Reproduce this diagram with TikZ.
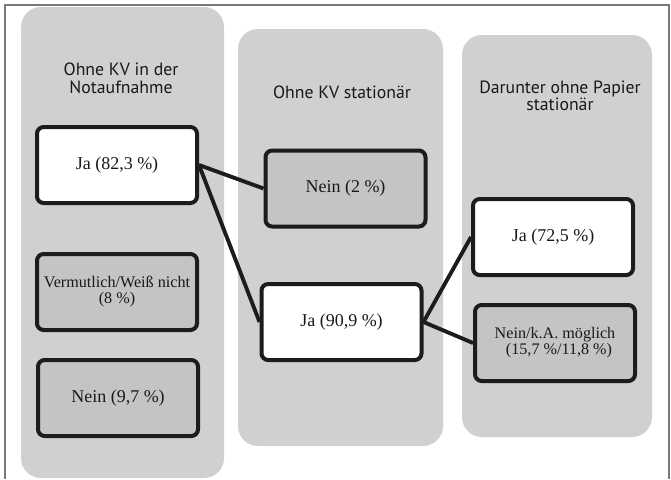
\documentclass[tikz,border=0pt]{standalone}
\usepackage{fontspec}
\setmainfont{Liberation Serif}
\newfontfamily\titlefont{PT Sans}
\usepackage{tikz}
\usepackage{xcolor}
\definecolor{colbg}{RGB}{208,208,208}
\definecolor{boxgray}{RGB}{196,196,196}
\definecolor{boxline}{RGB}{28,28,28}
\definecolor{framegray}{RGB}{120,120,120}
\tikzset{
    column/.style={fill=colbg, rounded corners=15pt},
    coltitle/.style={font=\titlefont\fontsize{13.3}{13.2}\selectfont, text=black!90, align=center},
    answer/.style={draw=boxline, line width=3pt, rounded corners=5pt, minimum width=120pt, minimum height=57pt, align=center, inner sep=1pt, text=black!90, font=\fontsize{13.5}{15}\selectfont},
    yesbox/.style={answer, fill=white},
    nobox/.style={answer, fill=boxgray},
    small/.style={font=\fontsize{12.1}{12}\selectfont},
    link/.style={draw=boxline, line width=2.9pt}
}

\begin{document}
\begin{tikzpicture}[x=0.75pt, y=-0.75pt]
    \useasboundingbox (0,0) rectangle (671,479);
    \fill[white] (0,0) rectangle (671,479);
    \draw[framegray, line width=0.8pt] (5,479)--(5,5)--(669,5)--(669,479);
    \fill[column] (21,7) rectangle (224,478);
    \fill[column] (238,29) rectangle (443,446);
    \fill[column] (462,35) rectangle (652,437);
    \node[coltitle] (t1) at (121,78) {Ohne KV in der\\Notaufnahme};
    \node[coltitle] (t2) at (342,92) {Ohne KV stationär};
    \node[coltitle] (t3) at (560,96) {Darunter ohne Papier\\stationär};
    \node[yesbox] (ja1) at (117,165) {Ja (82,3 \%)};
    \node[nobox, small] (weiss) at (117,292) {Vermutlich/Weiß nicht\\(8 \%)};
    \node[nobox] (nein1) at (118,398) {Nein (9,7 \%)};
    \node[nobox] (nein2) at (345.5,188.5) {Nein (2 \%)};
    \node[yesbox] (ja2) at (341.5,322) {Ja (90,9 \%)};
    \node[yesbox] (ja3) at (553,237) {Ja (72,5 \%)};
    \node[nobox, small] (nein3) at (555,343) {Nein/k.A. möglich\\\hspace*{6pt}(15,7 \%/11,8 \%)};
    \draw[link] (ja1.east)--(nein2.west);
    \draw[link] (ja1.east)--(ja2.west);
    \draw[link] (ja2.east)--(ja3.west);
    \draw[link] (ja2.east)--(nein3.west);
\end{tikzpicture}
\end{document}
